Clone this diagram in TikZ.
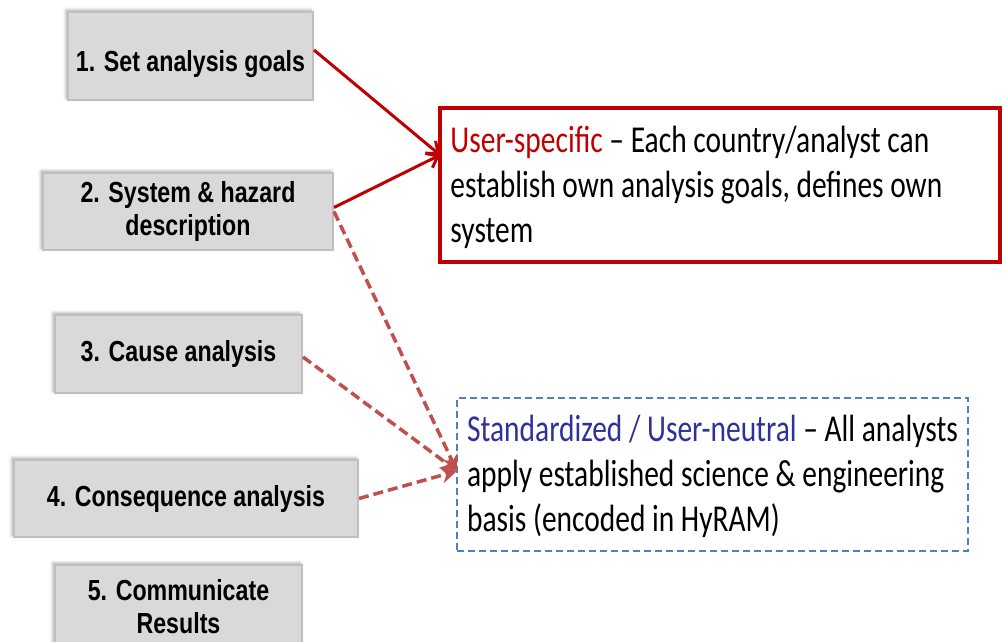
\documentclass[tikz,border=0pt]{standalone}
\usepackage{fontspec}
\usetikzlibrary{arrows.meta,shadows.blur}
\newfontfamily\boxfont[FakeStretch=0.8]{Liberation Sans}
\newfontfamily\calfont[FakeStretch=0.775]{Carlito}
\definecolor{darkred}{HTML}{C00000}
\definecolor{dashred}{HTML}{C0504D}
\definecolor{boxblue}{HTML}{4F81BD}
\definecolor{txtblue}{HTML}{30309A}
\definecolor{boxfill}{HTML}{D9D9D9}
\definecolor{boxline}{HTML}{BFBFBF}
\tikzset{
  stepbox/.style={draw=boxline, line width=2pt, fill=boxfill, inner sep=0pt,
    align=center, font=\boxfont\bfseries\fontsize{29}{33}\selectfont,
    blur shadow={shadow xshift=-2pt, shadow yshift=2pt, shadow blur radius=3pt, shadow opacity=35}},
  infotext/.style={inner sep=0pt, align=left, anchor=west,
    font=\calfont\fontsize{38}{45}\selectfont},
  solidarrow/.style={draw=darkred, line width=3pt, -{Straight Barb[length=10pt,width=16pt,line width=3pt]}},
  dasharrow/.style={draw=dashred, line width=3.5pt, dash pattern=on 10pt off 5pt, -{Stealth[length=16pt,width=16pt]}}
}
\begin{document}
\begin{tikzpicture}[x=1pt,y=-1pt]
\useasboundingbox (0,0) rectangle (1002,642);
\clip (0,0) rectangle (1002,642);
% gray step boxes
\node[stepbox, minimum width=245pt, minimum height=88pt] (b1) at (190.5,56) {\raisebox{-16pt}[0pt][0pt]{1. Set analysis goals}};
\node[stepbox, minimum width=290pt, minimum height=77pt] (b2) at (188,211.5) {2. System \& hazard\\description};
\node[stepbox, minimum width=247pt, minimum height=78pt] (b3) at (178.5,354) {3. Cause analysis};
\node[stepbox, minimum width=344pt, minimum height=77pt] (b4) at (186,498.5) {4. Consequence analysis};
\node[stepbox, minimum width=247pt, minimum height=84pt] (b5) at (178.5,607) {5. Communicate\\Results};
% info boxes
\node[draw=darkred, line width=3.5pt, minimum width=560pt, minimum height=154pt] (rb) at (720,185) {};
\node[infotext] (rbt) at ([xshift=12pt,yshift=-2pt]rb.west)
  {\textcolor{darkred}{User-specific} – Each country/analyst can\\establish own analysis goals, defines own\\system};
\node[draw=boxblue, dash pattern=on 7pt off 4pt, line width=2.2pt, minimum width=511pt, minimum height=153pt] (bb) at (712.5,474.5) {};
\node[infotext] (bbt) at ([xshift=11pt,yshift=-2pt]bb.west)
  {\textcolor{txtblue}{Standardized / User-neutral} – All analysts\\apply established science \& engineering\\basis (encoded in HyRAM)};
% arrow tips
\coordinate (rtip) at (440,155);
\coordinate (btip) at (457,471);
% connectors
\draw[solidarrow] ([yshift=6pt]b1.east) -- (rtip);
\draw[solidarrow] ([yshift=4pt]b2.east) -- (rtip);
\draw[dasharrow] (b2.east) -- (btip);
\draw[dasharrow] ([yshift=-3pt]b3.east) -- (btip);
\draw[dasharrow] (b4.east) -- (btip);
\end{tikzpicture}
\end{document}
